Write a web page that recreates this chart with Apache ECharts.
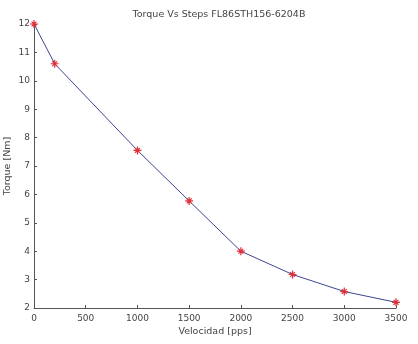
<!DOCTYPE html>
<html>
<head>
<meta charset="utf-8">
<script src="https://cdn.jsdelivr.net/npm/echarts@6/dist/echarts.min.js"></script>
<style>
  html, body { margin: 0; padding: 0; background: #fff; }
  #chart { width: 418px; height: 344px; }
</style>
</head>
<body>
<div id="chart"></div>
<script>
const velocidad = [0, 200, 1000, 1500, 2000, 2500, 3000, 3500];
const torque = [12, 10.6, 7.55, 5.77, 4.0, 3.18, 2.58, 2.2];
const xTicks = [0, 500, 1000, 1500, 2000, 2500, 3000, 3500];
const yTicks = [2, 3, 4, 5, 6, 7, 8, 9, 10, 11, 12];

const txt = '#444';
const font = 'DejaVu Sans, sans-serif';

const option = {
  animation: false,
  title: {
    text: 'Torque Vs Steps FL86STH156-6204B',
    left: 214,
    textAlign: 'center',
    top: 5,
    textStyle: { fontSize: 9.5, fontWeight: 'normal', color: txt, fontFamily: font },
  },
  grid: { left: 34, right: 22, top: 24, bottom: 36, containLabel: false, outerBoundsMode: 'none' },
  xAxis: {
    type: 'value',
    min: xTicks[0],
    max: xTicks[xTicks.length - 1],
    interval: 500,
    name: 'Velocidad [pps]',
    nameLocation: 'middle',
    nameMoveOverlap: false,
    nameGap: 19,
    nameTextStyle: { fontSize: 9.5, color: txt, fontFamily: font },
    axisLine: { show: true, lineStyle: { color: '#555', width: 1 } },
    axisTick: { show: true, inside: true, length: 3, lineStyle: { color: '#555' } },
    axisLabel: { fontSize: 9, color: txt, fontFamily: font, margin: 6, formatter: (v) => String(v) },
    splitLine: { show: false },
  },
  yAxis: {
    type: 'value',
    min: yTicks[0],
    max: yTicks[yTicks.length - 1],
    interval: 1,
    name: 'Torque [Nm]',
    nameLocation: 'middle',
    nameMoveOverlap: false,
    nameGap: 21,
    nameTextStyle: { fontSize: 9.5, color: txt, fontFamily: font },
    axisLine: { show: true, lineStyle: { color: '#555', width: 1 } },
    axisTick: { show: true, inside: true, length: 3, lineStyle: { color: '#555' } },
    axisLabel: { fontSize: 9, color: txt, fontFamily: font, margin: 4, formatter: (v) => String(v) },
    splitLine: { show: false },
  },
  series: [
    {
      type: 'line',
      data: velocidad.map((v, i) => [v, torque[i]]),
      lineStyle: { color: '#3d4590', width: 1 },
      symbol: 'path://M0,5 L10,5 M5,0 L5,10 M2,2 L8,8 M8,2 L2,8',
      symbolSize: 8,
      showAllSymbol: true,
      itemStyle: { color: 'transparent', borderColor: '#e0303a', borderWidth: 1.2 },
      z: 3,
    },
  ],
};

const myChart = echarts.init(document.getElementById('chart'));
myChart.setOption(option);
</script>
</body>
</html>
